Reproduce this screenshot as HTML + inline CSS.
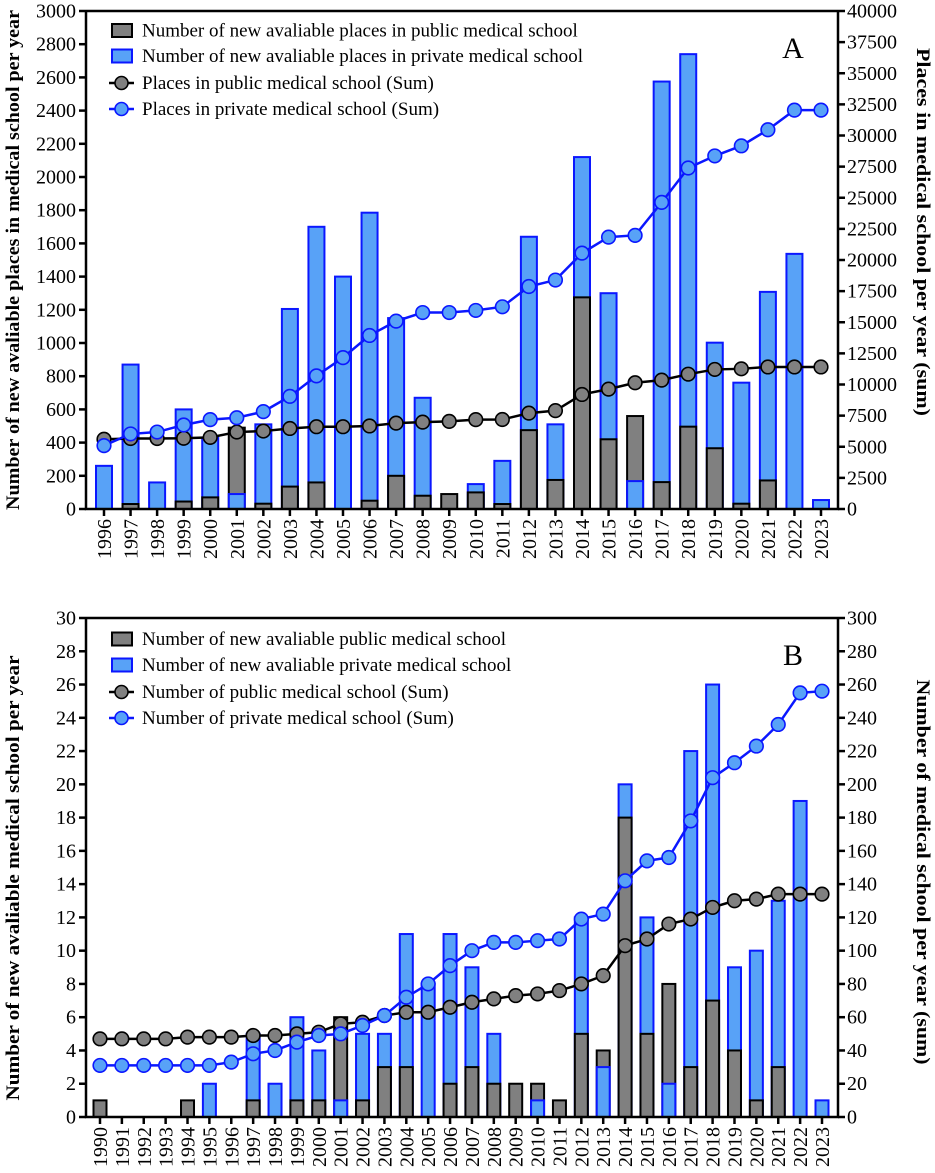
<!DOCTYPE html>
<html><head><meta charset="utf-8">
<style>
html,body{margin:0;padding:0;background:#fff;}
svg{display:block;font-family:"Liberation Serif","DejaVu Serif",serif;}
svg text{font-family:"Liberation Serif","DejaVu Serif",serif;}
</style></head>
<body>
<svg id="chart" width="935" height="1173" viewBox="0 0 935 1173" xmlns="http://www.w3.org/2000/svg" font-family="Liberation Serif, DejaVu Serif, serif"></svg>
<script>
// ===== Panel A data =====
const yearsA = [1996,1997,1998,1999,2000,2001,2002,2003,2004,2005,2006,2007,2008,2009,2010,2011,2012,2013,2014,2015,2016,2017,2018,2019,2020,2021,2022,2023];
const publicNewA = [0,30,0,45,70,490,32,135,160,0,50,200,80,90,100,30,475,175,1275,420,560,162,496,366,32,172,0,0];
const privateNewA = [260,870,160,600,430,90,510,1205,1700,1400,1785,1150,670,0,150,290,1640,510,2120,1300,168,2575,2740,1002,761,1308,1537,54];
const publicSumA = [5600,5660,5660,5680,5750,6180,6260,6470,6610,6610,6670,6900,6980,7040,7180,7190,7700,7900,9200,9630,10140,10350,10830,11210,11260,11410,11410,11410];
const privateSumA = [5090,6030,6180,6750,7180,7330,7820,9050,10690,12160,13940,15090,15780,15780,15950,16240,17870,18390,20550,21840,21980,24630,27390,28360,29170,30460,32040,32040];
const leftTicksA = [0,200,400,600,800,1000,1200,1400,1600,1800,2000,2200,2400,2600,2800,3000];
const rightTicksA = [0,2500,5000,7500,10000,12500,15000,17500,20000,22500,25000,27500,30000,32500,35000,37500,40000];
const legendA = ["Number of new avaliable places in public medical school","Number of new avaliable places in private medical school","Places in public medical school (Sum)","Places in private medical school (Sum)"];

// ===== Panel B data =====
const yearsB = [1990,1991,1992,1993,1994,1995,1996,1997,1998,1999,2000,2001,2002,2003,2004,2005,2006,2007,2008,2009,2010,2011,2012,2013,2014,2015,2016,2017,2018,2019,2020,2021,2022,2023];
const publicNewB = [1,0,0,0,1,0,0,1,0,1,1,6,1,3,3,0,2,3,2,2,2,1,5,4,18,5,8,3,7,4,1,3,0,0];
const privateNewB = [0,0,0,0,0,2,0,5,2,6,4,1,5,5,11,8,11,9,5,0,1,0,12,3,20,12,2,22,26,9,10,13,19,1];
const publicSumB = [47,47,47,47,48,48,48,49,49,50,51,56,57,61,63,63,66,69,71,73,74,76,80,85,103,107,116,119,126,130,131,134,134,134];
const privateSumB = [31,31,31,31,31,31,33,38,40,45,49,50,55,61,72,80,91,100,105,105,106,107,119,122,142,154,156,178,204,213,223,236,255,256];
const leftTicksB = [0,2,4,6,8,10,12,14,16,18,20,22,24,26,28,30];
const rightTicksB = [0,20,40,60,80,100,120,140,160,180,200,220,240,260,280,300];
const legendB = ["Number of new avaliable public medical school","Number of new avaliable private medical school","Number of public medical school (Sum)","Number of private medical school (Sum)"];

const NS = "http://www.w3.org/2000/svg";
const svg = document.getElementById('chart');
const FF = "Liberation Serif, DejaVu Serif, serif";
function mk(tag, attrs, parent){
  const e = document.createElementNS(NS, tag);
  for (const k in attrs) e.setAttribute(k, attrs[k]);
  if (tag === 'text') e.setAttribute('font-family', FF);
  (parent||svg).appendChild(e);
  return e;
}
const GRAY="#808080", BLUEF="#58a2f7", BLUES="#0b17ff";

function panel(cfg){
  const g = mk('g', {});
  
  
  const L=86, R=838, T=cfg.top, B=cfg.bottom;
  const yL = v => B - v/cfg.leftMax*(B-T);
  const yR = v => B - v/cfg.rightMax*(B-T);
  const xC = i => cfg.x0 + i*cfg.step;
  const bw = cfg.bw;

  for (let i=0;i<cfg.years.length;i++){
    const pu = cfg.pub[i], pr = cfg.priv[i];
    const items = [];
    if (pu>0) items.push({v:pu, fill:GRAY, stroke:"#000", nm:'public-bar-'+cfg.years[i]});
    if (pr>0) items.push({v:pr, fill:BLUEF, stroke:BLUES, nm:'private-bar-'+cfg.years[i]});
    items.sort((a,b)=>b.v-a.v);
    for (const it of items){
      const r = mk('rect', {x:xC(i)-bw/2, y:yL(it.v), width:bw, height:B-yL(it.v), fill:it.fill, stroke:it.stroke, 'stroke-width':2}, g);
      
      
    }
  }
  function series(vals, stroke, fill, nm){
    const pts = vals.map((v,i)=>xC(i)+','+yR(v)).join(' ');
    const pl = mk('polyline', {points:pts, fill:'none', stroke:stroke, 'stroke-width':2.5}, g);
    
    
    vals.forEach((v,i)=>{
      const c = mk('circle', {cx:xC(i), cy:yR(v), r:6.8, fill:fill, stroke:stroke, 'stroke-width':1.6}, g);
      
      
    });
  }
  series(cfg.pubSum, "#000", GRAY, 'public-sum');
  series(cfg.privSum, BLUES, BLUEF, 'private-sum');

  const ax = mk('path', {d:`M${L},${T} L${L},${B} L${R},${B} L${R},${T} M${L},${T} L${R},${T}`, fill:'none', stroke:'#000', 'stroke-width':2.5}, g);
  
  
  cfg.lt.forEach(v=>{
    mk('line',{x1:L-7,x2:L,y1:yL(v),y2:yL(v),stroke:'#000','stroke-width':2.5},g);
    const t = mk('text',{x:L-10,y:yL(v)+6.5,'text-anchor':'end','font-size':20},g);
    t.textContent=v;
    
    
  });
  cfg.rt.forEach(v=>{
    mk('line',{x1:R,x2:R+7,y1:yR(v),y2:yR(v),stroke:'#000','stroke-width':2.5},g);
    const t = mk('text',{x:R+9,y:yR(v)+6.5,'text-anchor':'start','font-size':20},g);
    t.textContent=v;
    
    
  });
  cfg.years.forEach((yr,i)=>{
    mk('line',{x1:xC(i),x2:xC(i),y1:B,y2:B+7,stroke:'#000','stroke-width':2.5},g);
    const t = mk('text',{x:0,y:0,'text-anchor':'end','font-size':20,transform:`translate(${xC(i)+7},${B+10}) rotate(-90)`},g);
    t.textContent=yr;
    
    
  });
  const lt = mk('text',{x:0,y:0,'text-anchor':'middle','font-size':19,'font-weight':'bold',textLength:cfg.ltLen,lengthAdjust:'spacingAndGlyphs',transform:`translate(19,${cfg.ltY}) rotate(-90)`},g);
  lt.textContent = cfg.ltTitle;
  
  
  const rt = mk('text',{x:0,y:0,'text-anchor':'middle','font-size':19,'font-weight':'bold',textLength:cfg.rtLen,lengthAdjust:'spacingAndGlyphs',transform:`translate(917,${cfg.rtY}) rotate(90)`},g);
  rt.textContent = cfg.rtTitle;
  
  
  const pl = mk('text',{x:793,y:T+47,'text-anchor':'middle','font-size':30},g);
  pl.textContent = cfg.letter;
  
  
  cfg.legend.forEach((txt,k)=>{
    const cy = T + cfg.legY[k];
    const le = mk('g',{},g);
    
    
    if (k<2){
      mk('rect',{x:112,y:cy-6.5,width:20,height:13,fill:k==0?GRAY:BLUEF,stroke:k==0?'#000':BLUES,'stroke-width':2},le);
    } else {
      const s = k==2?'#000':BLUES, f = k==2?GRAY:BLUEF;
      mk('line',{x1:109,x2:134,y1:cy,y2:cy,stroke:s,'stroke-width':2.5},le);
      mk('circle',{cx:121.5,cy:cy,r:6.5,fill:f,stroke:s,'stroke-width':1.6},le);
    }
    const t = mk('text',{x:142,y:cy+6,'font-size':19},le);
    t.textContent = txt;
  });
}

panel({name:'panel-a', top:11, bottom:509, x0:104, step:(821-104)/27, bw:16,
  years:yearsA, pub:publicNewA, priv:privateNewA, pubSum:publicSumA, privSum:privateSumA,
  leftMax:3000, rightMax:40000, lt:leftTicksA, rt:rightTicksA,
  ltTitle:"Number of new avaliable places in medical school per year", ltLen:500, ltY:260,
  rtTitle:"Places in medical school per year (sum)", rtLen:368, rtY:232,
  letter:"A", legend:legendA, legY:[19.5,45,72,98]});

panel({name:'panel-b', top:618, bottom:1117, x0:100, step:(822-100)/33, bw:13,
  years:yearsB, pub:publicNewB, priv:privateNewB, pubSum:publicSumB, privSum:privateSumB,
  leftMax:30, rightMax:300, lt:leftTicksB, rt:rightTicksB,
  ltTitle:"Number of new avaliable medical school per year", ltLen:445, ltY:878,
  rtTitle:"Number of medical school per year (sum)", rtLen:385, rtY:872,
  letter:"B", legend:legendB, legY:[21,47,74,100]});
</script>
</body></html>
